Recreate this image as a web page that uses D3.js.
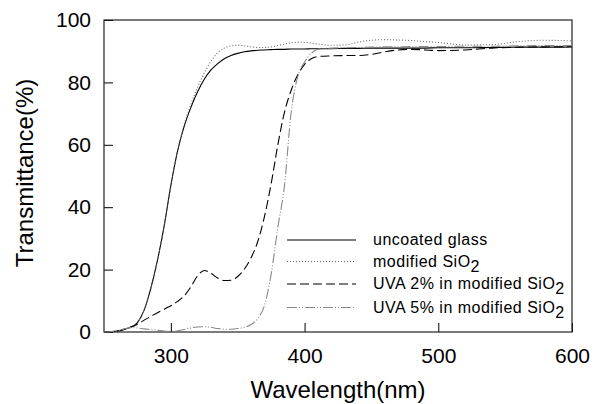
<!DOCTYPE html>
<html>
<head>
<meta charset="utf-8">
<script src="https://cdn.jsdelivr.net/npm/d3@7/dist/d3.min.js"></script>
<style>
  body { margin: 0; background: #fff; }
  svg { display: block; font-family: "Liberation Sans", Arial, sans-serif; }
  .tick text { font-size: 21px; fill: #000; }
  .tick line { stroke: #000; }
</style>
</head>
<body>
<div id="chart"></div>
<script>
//wavelength grid (nm) shared by all four curves
var wavelengths = [250, 260, 265, 270, 275, 280, 285, 290, 295, 300, 305, 310, 315, 320, 325,
  330, 335, 340, 345, 350, 355, 360, 365, 370, 375, 380, 385, 390, 395, 400, 405, 410,
  420, 430, 440, 450, 460, 470, 480, 490, 500, 520, 540, 560, 580, 600];

//transmittance (%)
var uncoatedGlass = [0, 0.3, 0.8, 1.6, 3, 7, 14, 23, 34, 47, 58, 66, 72, 77, 81,
  84, 86, 87.6, 88.6, 89.3, 89.8, 90.1, 90.3, 90.4, 90.5, 90.6, 90.6, 90.7, 90.7, 90.7, 90.8, 90.8,
  90.8, 90.9, 90.9, 91, 91, 91, 91, 91, 91.1, 91.1, 91.2, 91.3, 91.3, 91.4];

var modifiedSiO2 = [0, 0.3, 0.8, 1.6, 3, 7, 14, 23, 34, 47, 58, 66.5, 73, 78.5, 83,
  86.8, 89.5, 91, 91.7, 91.9, 91.7, 91.4, 91.2, 91.2, 91.4, 91.8, 92.3, 92.7, 92.9, 92.8, 92.6, 92.3,
  91.9, 92, 92.9, 93.5, 93.7, 93.6, 93.4, 93.1, 92.8, 92, 92.1, 93.1, 93.5, 93.3];

var uva2 = [0, 0.3, 0.8, 1.5, 2.5, 3.8, 5, 6.2, 7.3, 8.4, 9.8, 11.6, 14.5, 18, 19.7,
  18.8, 17.3, 16.5, 16.6, 17.8, 20.2, 23.8, 29, 37, 47.5, 60, 70.5, 77.5, 82.5, 85.8, 87.6, 88.3,
  88.5, 88.6, 88.6, 89, 89.8, 90.4, 90.6, 90.4, 90.2, 90.4, 91, 91.3, 91.4, 91.5];

var uva5 = [0, 0.4, 1, 1.4, 1.3, 1, 0.8, 0.6, 0.3, 0.2, 0.4, 0.8, 1.3, 1.6, 1.7,
  1.5, 1.1, 0.9, 0.9, 1.1, 1.5, 2.4, 4.3, 8.5, 18.5, 33.5, 47, 70.5, 82, 86.5, 89.3, 90.6,
  91, 91.1, 91.2, 91.3, 91.4, 91.4, 91.5, 91.5, 91.5, 91.6, 91.6, 91.7, 91.8, 91.8];

var xTicks = [300, 400, 500, 600];
var yTicks = [0, 20, 40, 60, 80, 100];

var seriesNames = ["uncoated glass", "modified SiO", "UVA 2% in modified SiO", "UVA 5% in modified SiO"];
var seriesSub = ["", "2", "2", "2"];
var seriesValues = [uncoatedGlass, modifiedSiO2, uva2, uva5];

//line look for each series
var styles = [
  { color: "#000", dash: null },
  { color: "#666", dash: "1,2" },
  { color: "#000", dash: "9,4" },
  { color: "#888", dash: "10,2,1,2,1,2" }
];

var width = 600,
  height = 404;
var margin = { left: 104, right: 28, top: 20, bottom: 72 };

var svg = d3.select("#chart").append("svg")
  .attr("width", width)
  .attr("height", height);

var x = d3.scaleLinear().domain([250, 600]).range([margin.left, width - margin.right]);
var y = d3.scaleLinear().domain([0, 100]).range([height - margin.bottom, margin.top]);

//axes with inward ticks
var xAxis = svg.append("g")
  .attr("transform", "translate(0," + y(0) + ")")
  .call(d3.axisBottom(x).tickValues(xTicks).tickSize(-9).tickPadding(16).tickFormat(d3.format("d")));
xAxis.select(".domain").remove();
xAxis.selectAll("text").attr("font-size", 21).attr("font-family", null);

var yAxis = svg.append("g")
  .attr("transform", "translate(" + x(250) + ",0)")
  .call(d3.axisLeft(y).tickValues(yTicks).tickSize(-9).tickPadding(13).tickFormat(d3.format("d")));
yAxis.select(".domain").remove();
yAxis.selectAll("text").attr("font-size", 21).attr("font-family", null);

//frame around the plot
svg.append("rect")
  .attr("x", x(250))
  .attr("y", y(100))
  .attr("width", x(600) - x(250))
  .attr("height", y(0) - y(100))
  .attr("fill", "none")
  .attr("stroke", "#222")
  .attr("stroke-width", 1.2);

//curves
var line = d3.line()
  .x(function(d) { return x(d[0]); })
  .y(function(d) { return y(d[1]); })
  .curve(d3.curveMonotoneX);

seriesValues.forEach(function(vals, i) {
  svg.append("path")
    .datum(wavelengths.map(function(w, j) { return [w, vals[j]]; }))
    .attr("d", line)
    .attr("fill", "none")
    .attr("stroke", styles[i].color)
    .attr("stroke-width", 1.1)
    .attr("stroke-dasharray", styles[i].dash);
});

//legend
var legendY = [240, 261.5, 284, 307.5];
seriesNames.forEach(function(name, i) {
  svg.append("line")
    .attr("x1", 287).attr("x2", 356)
    .attr("y1", legendY[i]).attr("y2", legendY[i])
    .attr("stroke", styles[i].color)
    .attr("stroke-width", 1.1)
    .attr("stroke-dasharray", styles[i].dash);
  var t = svg.append("text")
    .attr("x", 373)
    .attr("y", legendY[i] + 5)
    .attr("font-size", 16)
    .attr("letter-spacing", 0.5)
    .text(name);
  if (seriesSub[i]) {
    t.append("tspan").attr("dy", 5).text(seriesSub[i]);
  }
});

//axis titles
svg.append("text")
  .attr("x", 338)
  .attr("y", 398)
  .attr("text-anchor", "middle")
  .attr("font-size", 24)
  .text("Wavelength(nm)");

svg.append("text")
  .attr("transform", "translate(33,173) rotate(-90)")
  .attr("text-anchor", "middle")
  .attr("font-size", 24)
  .text("Transmittance(%)");
</script>
</body>
</html>
